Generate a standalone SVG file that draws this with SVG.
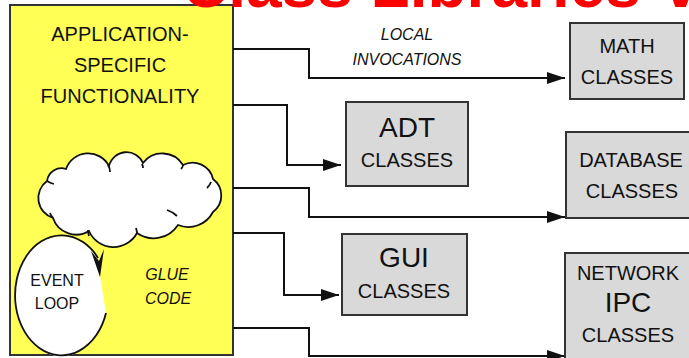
<svg xmlns="http://www.w3.org/2000/svg" width="689" height="358" viewBox="0 0 689 358">
<style>
text{font-family:"Liberation Sans",Arial,sans-serif;fill:#111;text-anchor:middle}
.t20{font-size:20px}
.t28{font-size:28px}
.it{font-size:16px;font-style:italic}
.t16{font-size:16px}
.box{fill:#D9D9D9;stroke:#333;stroke-width:2}
.con{fill:none;stroke:#111;stroke-width:2}
.ln{fill:none;stroke:#111;stroke-width:1.8}
</style>
<defs>
<marker id="arr" markerUnits="userSpaceOnUse" markerWidth="18" markerHeight="12" refX="18" refY="6" orient="auto">
<path d="M0,0 L18,6 L0,12 Z" fill="#111"/>
</marker>
</defs>
<rect width="689" height="358" fill="#fff"/>
<g id="app">
<rect x="10" y="5" width="223" height="350" fill="#FFFF55" stroke="#333" stroke-width="2"/>
<text class="t20" x="120" y="41">APPLICATION-</text>
<text class="t20" x="120" y="72">SPECIFIC</text>
<text class="t20" x="120" y="103">FUNCTIONALITY</text>
</g>
<g id="title">
<text x="182" y="7" style="font-size:64px;font-weight:bold;fill:#FF0000;text-anchor:start">Class Libraries<tspan x="663">v</tspan></text>
</g>
<g id="cloud">
<path d="M47,181 A14.6,14.6 0 0 1 66,169 A23.5,23.5 0 0 1 109,166 A18,18 0 0 1 143,163 A24.3,24.3 0 0 1 183,165 A21,21 0 0 1 213,179 A20.6,20.6 0 0 1 213,212 A27.8,27.8 0 0 1 178,225 A29,29 0 0 1 137,233 A26.7,26.7 0 0 1 89,231 A24.5,24.5 0 0 1 53,218 A21,21 0 0 1 47,181 Z" fill="#fff" stroke="#111" stroke-width="1.8"/>
<path class="ln" d="M108,165 Q110,168 110,172 M142,164 Q143,166 143,168 M183,165 Q183,167 181,169 M211,182 Q210,185 207,188 M167,210 Q173,212 177,216 M136,228 Q137,231 137,234 M88,230 Q88,233 89,236 M53,218 Q51,216 50,213 M47,181 Q50,183 54,184"/>
</g>
<g id="eventloop">
<path d="M106,313 A46.5,60 0 1 1 99,261 L100,276 Z" fill="#fff"/>
<path class="ln" d="M106,313 A46.5,60 0 1 1 98,258"/>
<polygon points="100,277 91,251 99,261 104,249" fill="#111"/>
<text class="t16" x="57" y="286">EVENT</text>
<text class="t16" x="57" y="309">LOOP</text>
</g>
<g id="glue">
<text class="it" x="167" y="280">GLUE</text>
<text class="it" x="168" y="304">CODE</text>
</g>
<g id="connectors">
<path class="con" d="M233,49 H309 V78 H565" marker-end="url(#arr)"/>
<path class="con" d="M233,105 H287 V165 H341" marker-end="url(#arr)"/>
<path class="con" d="M233,188 H309 V217 H565" marker-end="url(#arr)"/>
<path class="con" d="M233,233 H284 V295 H339" marker-end="url(#arr)"/>
<path class="con" d="M233,328 H309 V356 H565" marker-end="url(#arr)"/>
<text class="it" x="407" y="40">LOCAL</text>
<text class="it" x="407" y="65">INVOCATIONS</text>
</g>
<g id="math">
<rect class="box" x="570" y="23" width="114" height="76"/>
<text class="t20" x="627" y="53">MATH</text>
<text class="t20" x="627" y="84">CLASSES</text>
</g>
<g id="adt">
<rect class="box" x="346" y="102" width="122" height="84"/>
<text class="t28" x="407" y="137">ADT</text>
<text class="t20" x="407" y="167">CLASSES</text>
</g>
<g id="database">
<rect class="box" x="566" y="132" width="140" height="86"/>
<text class="t20" x="631" y="167">DATABASE</text>
<text class="t20" x="632" y="198">CLASSES</text>
</g>
<g id="gui">
<rect class="box" x="342" y="234" width="125" height="81"/>
<text class="t28" x="404" y="267">GUI</text>
<text class="t20" x="404" y="298">CLASSES</text>
</g>
<g id="network">
<rect class="box" x="565" y="253" width="140" height="110"/>
<text class="t20" x="628" y="280">NETWORK</text>
<text class="t28" x="628" y="312">IPC</text>
<text class="t20" x="628" y="342">CLASSES</text>
</g>
</svg>
